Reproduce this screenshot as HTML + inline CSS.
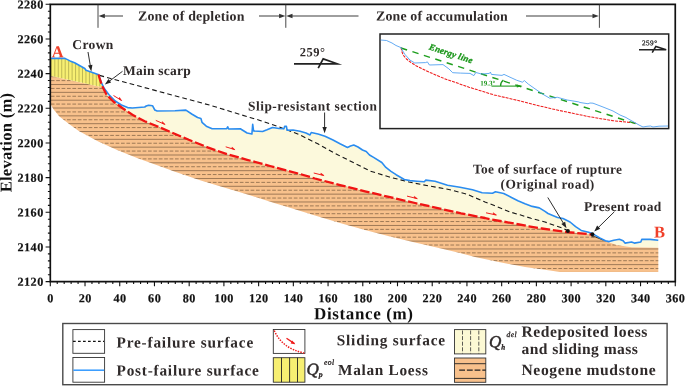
<!DOCTYPE html><html><head><meta charset="utf-8"><title>Landslide profile</title>
<style>html,body{margin:0;padding:0;background:#fff}body{width:685px;height:386px;overflow:hidden}svg{display:block;will-change:transform}text{font-family:"Liberation Serif",serif;font-weight:bold}</style></head><body>
<svg width="685" height="386" viewBox="0 0 685 386">
<defs>
<pattern id="pm" width="40" height="7.6" patternUnits="userSpaceOnUse" x="0" y="0.45"><rect width="40" height="7.6" fill="#f8c18c"/><line x1="0" y1="3.8" x2="40" y2="3.8" stroke="#4a3524" stroke-width="0.7" stroke-dasharray="3.2 1.8"/><line x1="0" y1="7.2" x2="40" y2="7.2" stroke="#4a3524" stroke-width="0.65"/></pattern>
<pattern id="pl" width="3.1" height="10" patternUnits="userSpaceOnUse" x="1.2"><rect width="3.1" height="10" fill="#f7ef72"/><line x1="1.5" y1="0" x2="1.5" y2="10" stroke="#55501c" stroke-width="0.45"/></pattern>
<clipPath id="cp"><rect x="50.30" y="4.30" width="624.96" height="277.36"/></clipPath>
</defs>
<rect width="685" height="386" fill="#fff"/>
<path d="M98.75,74.80 L101.20,82.40 L104.30,88.60 L109.00,94.80 L115.20,101.00 L121.40,105.00 L127.60,107.60 L132.30,108.00 L144.70,107.00 L146.20,106.00 L148.60,105.20 L152.50,105.70 L154.80,110.00 L157.10,111.00 L175.00,110.70 L185.90,110.10 L191.70,114.00 L197.60,117.50 L200.90,118.40 L202.00,122.30 L206.30,126.20 L212.10,128.70 L226.70,128.70 L227.70,126.80 L228.60,129.00 L240.30,128.70 L247.10,133.00 L251.90,134.00 L252.70,124.30 L253.60,131.00 L262.60,131.50 L267.00,129.80 L272.50,127.50 L279.00,128.50 L283.90,128.80 L284.70,126.30 L286.40,126.40 L287.10,130.20 L293.00,130.00 L300.00,131.25 L306.00,133.00 L310.00,135.00 L311.25,132.50 L318.00,134.00 L325.00,136.25 L333.00,140.00 L340.00,143.75 L347.50,147.50 L350.50,146.00 L353.75,145.00 L358.00,147.00 L362.50,150.00 L366.25,151.50 L369.50,155.00 L373.60,157.40 L381.80,162.50 L385.90,167.40 L391.00,171.30 L396.10,174.70 L404.30,179.50 L410.00,180.60 L417.00,181.20 L424.30,181.70 L425.80,180.10 L435.00,181.30 L447.50,185.30 L460.00,187.20 L472.50,189.70 L482.10,192.70 L492.50,193.30 L495.50,191.80 L503.70,193.50 L511.00,197.20 L517.90,200.70 L525.00,203.70 L532.20,206.40 L539.30,207.90 L545.00,211.40 L548.00,213.50 L557.50,217.50 L563.00,218.50 L570.00,222.00 L575.60,226.70 L581.20,230.40 L588.60,232.30 L593.30,234.10 L599.80,237.90 L605.40,240.70 L609.10,241.60 L613.80,240.30 L619.40,239.20 L623.10,240.70 L625.00,243.10 L631.50,242.00 L634.30,243.10 L640.80,242.00 L641.80,239.40 L650.10,239.40 L658.30,240.30 L658.30,247.80 L631.50,247.20 L616.60,245.00 L608.00,242.00 L600.00,238.30 L592.00,234.50 L567.70,232.10 L554.70,230.40 L541.80,228.50 L528.80,226.30 L515.90,223.90 L503.00,221.50 L490.00,219.20 L485.00,218.00 L461.00,213.30 L440.00,208.60 L415.00,203.00 L390.00,197.20 L365.00,191.30 L340.00,185.10 L315.00,178.50 L300.00,174.00 L270.00,166.00 L247.10,159.80 L227.70,154.40 L208.30,147.60 L188.80,139.80 L169.40,131.50 L157.10,126.30 L144.70,121.20 L133.80,115.60 L123.00,108.50 L113.60,101.70 L106.60,94.80 L102.00,85.50 L99.50,78.00 L98.50,74.50Z" fill="#fcf9dc"/>
<clipPath id="cm"><path d="M50.30,75.75 L102.60,87.20 L106.60,94.80 L113.60,101.70 L123.00,108.50 L133.80,115.60 L144.70,121.20 L157.10,126.30 L169.40,131.50 L188.80,139.80 L208.30,147.60 L227.70,154.40 L247.10,159.80 L270.00,166.00 L300.00,174.00 L315.00,178.50 L340.00,185.10 L365.00,191.30 L390.00,197.20 L415.00,203.00 L440.00,208.60 L461.00,213.30 L485.00,218.00 L490.00,219.20 L503.00,221.50 L515.90,223.90 L528.80,226.30 L541.80,228.50 L554.70,230.40 L567.70,232.10 L592.00,234.50 L600.00,238.30 L608.00,242.00 L616.60,245.00 L631.50,247.20 L658.30,247.80 L658.30,272.00 L560.00,272.00 L550.00,270.50 L525.00,267.00 L500.00,262.30 L475.00,257.00 L461.00,253.20 L440.00,248.30 L415.00,242.40 L390.00,236.40 L365.00,229.90 L340.00,222.90 L315.00,215.40 L290.00,207.80 L275.00,203.20 L250.00,195.30 L225.00,187.80 L200.00,180.30 L175.00,171.80 L160.00,166.20 L137.10,158.10 L117.70,150.30 L98.30,141.60 L78.80,130.90 L69.10,124.10 L59.40,116.40 L53.60,109.60 L50.30,103.70Z"/></clipPath><clipPath id="cl"><path d="M50.30,58.40 L65.00,58.40 L70.00,60.90 L74.60,62.80 L84.80,68.50 L86.00,70.20 L98.75,74.80 L99.50,78.00 L102.00,85.50 L102.60,87.20 L50.30,75.75Z"/></clipPath>
<path d="M50.30,75.75 L102.60,87.20 L106.60,94.80 L113.60,101.70 L123.00,108.50 L133.80,115.60 L144.70,121.20 L157.10,126.30 L169.40,131.50 L188.80,139.80 L208.30,147.60 L227.70,154.40 L247.10,159.80 L270.00,166.00 L300.00,174.00 L315.00,178.50 L340.00,185.10 L365.00,191.30 L390.00,197.20 L415.00,203.00 L440.00,208.60 L461.00,213.30 L485.00,218.00 L490.00,219.20 L503.00,221.50 L515.90,223.90 L528.80,226.30 L541.80,228.50 L554.70,230.40 L567.70,232.10 L592.00,234.50 L600.00,238.30 L608.00,242.00 L616.60,245.00 L631.50,247.20 L658.30,247.80 L658.30,272.00 L560.00,272.00 L550.00,270.50 L525.00,267.00 L500.00,262.30 L475.00,257.00 L461.00,253.20 L440.00,248.30 L415.00,242.40 L390.00,236.40 L365.00,229.90 L340.00,222.90 L315.00,215.40 L290.00,207.80 L275.00,203.20 L250.00,195.30 L225.00,187.80 L200.00,180.30 L175.00,171.80 L160.00,166.20 L137.10,158.10 L117.70,150.30 L98.30,141.60 L78.80,130.90 L69.10,124.10 L59.40,116.40 L53.60,109.60 L50.30,103.70Z" fill="#f8c18c"/>
<g clip-path="url(#cm)" fill="none" stroke="#3d2b1b"><path d="M50,76.70 H660 M50,84.53 H660 M50,92.36 H660 M50,100.19 H660 M50,108.02 H660 M50,115.85 H660 M50,123.68 H660 M50,131.51 H660 M50,139.34 H660 M50,147.17 H660 M50,155.00 H660 M50,162.83 H660 M50,170.66 H660 M50,178.49 H660 M50,186.32 H660 M50,194.15 H660 M50,201.98 H660 M50,209.81 H660 M50,217.64 H660 M50,225.47 H660 M50,233.30 H660 M50,241.13 H660 M50,248.96 H660 M50,256.79 H660 M50,264.62 H660 M50,272.45 H660" stroke-width="0.58" stroke-opacity="0.82"/><path d="M50.8,80.60 H660 M50.8,88.43 H660 M50.8,96.26 H660 M50.8,104.09 H660 M50.8,111.92 H660 M50.8,119.75 H660 M50.8,127.58 H660 M50.8,135.41 H660 M50.8,143.24 H660 M50.8,151.07 H660 M50.8,158.90 H660 M50.8,166.73 H660 M50.8,174.56 H660 M50.8,182.39 H660 M50.8,190.22 H660 M50.8,198.05 H660 M50.8,205.88 H660 M50.8,213.71 H660 M50.8,221.54 H660 M50.8,229.37 H660 M50.8,237.20 H660 M50.8,245.03 H660 M50.8,252.86 H660 M50.8,260.69 H660 M50.8,268.52 H660 M50.8,276.35 H660" stroke-width="0.62" stroke-dasharray="3.7 1.7" stroke-opacity="0.78"/></g>
<path d="M50.30,58.40 L65.00,58.40 L70.00,60.90 L74.60,62.80 L84.80,68.50 L86.00,70.20 L98.75,74.80 L99.50,78.00 L102.00,85.50 L102.60,87.20 L50.30,75.75Z" fill="#f7ef72"/>
<g clip-path="url(#cl)" fill="none" stroke="#4a4618" stroke-width="0.5" stroke-opacity="0.65"><path d="M51.35,55 V90 M54.81,55 V90 M58.27,55 V90 M61.73,55 V90 M65.19,55 V90 M68.65,55 V90 M72.11,55 V90 M75.57,55 V90 M79.03,55 V90 M82.49,55 V90 M85.95,55 V90 M89.41,55 V90 M92.87,55 V90 M96.33,55 V90 M99.79,55 V90"/></g>
<path d="M99.50,75.40 L211.00,105.50 L250.00,117.50 L260.00,120.40 L279.40,127.00 L298.80,134.40 L318.30,144.10 L337.70,154.80 L357.10,164.50 L370.00,171.00 L389.40,177.00 L408.80,182.00 L428.30,185.80 L447.70,189.20 L467.10,194.20 L485.00,202.00 L495.00,205.80 L510.00,212.00 L520.00,214.80 L531.00,218.30 L545.00,222.00 L563.75,228.60 L567.50,230.50" fill="none" stroke="#161616" stroke-width="1.1" stroke-dasharray="4.7 3.1"/>
<path d="M591.5,236.6 L595,236.8 L603.5,240.2" stroke="#222" stroke-width="0.9" fill="none"/>
<path d="M50.30,58.40 L65.00,58.40 L70.00,60.90 L74.60,62.80 L84.80,68.50 L86.00,70.20 L98.75,74.80 L101.20,82.40 L104.30,88.60 L109.00,94.80 L115.20,101.00 L121.40,105.00 L127.60,107.60 L132.30,108.00 L144.70,107.00 L146.20,106.00 L148.60,105.20 L152.50,105.70 L154.80,110.00 L157.10,111.00 L175.00,110.70 L185.90,110.10 L191.70,114.00 L197.60,117.50 L200.90,118.40 L202.00,122.30 L206.30,126.20 L212.10,128.70 L226.70,128.70 L227.70,126.80 L228.60,129.00 L240.30,128.70 L247.10,133.00 L251.90,134.00 L252.70,124.30 L253.60,131.00 L262.60,131.50 L267.00,129.80 L272.50,127.50 L279.00,128.50 L283.90,128.80 L284.70,126.30 L286.40,126.40 L287.10,130.20 L293.00,130.00 L300.00,131.25 L306.00,133.00 L310.00,135.00 L311.25,132.50 L318.00,134.00 L325.00,136.25 L333.00,140.00 L340.00,143.75 L347.50,147.50 L350.50,146.00 L353.75,145.00 L358.00,147.00 L362.50,150.00 L366.25,151.50 L369.50,155.00 L373.60,157.40 L381.80,162.50 L385.90,167.40 L391.00,171.30 L396.10,174.70 L404.30,179.50 L410.00,180.60 L417.00,181.20 L424.30,181.70 L425.80,180.10 L435.00,181.30 L447.50,185.30 L460.00,187.20 L472.50,189.70 L482.10,192.70 L492.50,193.30 L495.50,191.80 L503.70,193.50 L511.00,197.20 L517.90,200.70 L525.00,203.70 L532.20,206.40 L539.30,207.90 L545.00,211.40 L548.00,213.50 L557.50,217.50 L563.00,218.50 L570.00,222.00 L575.60,226.70 L581.20,230.40 L588.60,232.30 L593.30,234.10 L599.80,237.90 L605.40,240.70 L609.10,241.60 L613.80,240.30 L619.40,239.20 L623.10,240.70 L625.00,243.10 L631.50,242.00 L634.30,243.10 L640.80,242.00 L641.80,239.40 L650.10,239.40 L658.30,240.30" fill="none" stroke="#2a8cf0" stroke-width="1.6" stroke-linejoin="round"/>
<path d="M98.50,74.50 L99.50,78.00 L102.00,85.50 L106.60,94.80 L113.60,101.70 L123.00,108.50 L133.80,115.60 L144.70,121.20 L157.10,126.30 L169.40,131.50 L188.80,139.80 L208.30,147.60 L227.70,154.40 L247.10,159.80 L270.00,166.00 L300.00,174.00 L315.00,178.50 L340.00,185.10 L365.00,191.30 L390.00,197.20 L415.00,203.00 L440.00,208.60 L461.00,213.30 L485.00,218.00 L490.00,219.20 L503.00,221.50 L515.90,223.90 L528.80,226.30 L541.80,228.50 L554.70,230.40 L567.70,232.10 L592.00,234.50" fill="none" stroke="#f01414" stroke-width="2.3" stroke-dasharray="9.5 2.8" stroke-linejoin="round"/>
<path d="M113.50,95.50 L121.50,100.50" fill="none" stroke="#f01414" stroke-width="0.95"/><path d="M121.84,100.71 L119.52,97.26 L118.96,98.91 Z" fill="#f01414" stroke="#f01414" stroke-width="0.4"/>
<path d="M155.80,120.40 L164.80,124.40" fill="none" stroke="#f01414" stroke-width="0.95"/><path d="M165.17,124.56 L162.38,121.47 L162.06,123.18 Z" fill="#f01414" stroke="#f01414" stroke-width="0.4"/>
<path d="M225.70,146.80 L234.70,149.60" fill="none" stroke="#f01414" stroke-width="0.95"/><path d="M235.08,149.72 L231.96,146.97 L231.84,148.71 Z" fill="#f01414" stroke="#f01414" stroke-width="0.4"/>
<path d="M313.75,173.00 L323.75,175.50" fill="none" stroke="#f01414" stroke-width="0.95"/><path d="M324.14,175.60 L320.86,173.03 L320.84,174.77 Z" fill="#f01414" stroke="#f01414" stroke-width="0.4"/>
<path d="M407.00,196.10 L417.10,198.60" fill="none" stroke="#f01414" stroke-width="0.95"/><path d="M417.49,198.70 L414.21,196.13 L414.19,197.88 Z" fill="#f01414" stroke="#f01414" stroke-width="0.4"/>
<path d="M486.00,212.80 L496.20,215.00" fill="none" stroke="#f01414" stroke-width="0.95"/><path d="M496.59,215.08 L493.23,212.62 L493.27,214.37 Z" fill="#f01414" stroke="#f01414" stroke-width="0.4"/>
<circle cx="567.9" cy="230.9" r="2.0" fill="#111"/><circle cx="592.4" cy="234.2" r="2.0" fill="#111"/>
<path d="M50.30,4.30 L675.26,4.30 L675.26,281.66 L50.30,281.66 Z" fill="none" stroke="#111" stroke-width="1.7"/>
<path d="M50.30,281.66 h-4.70 M50.30,274.73 h-2.40 M50.30,267.79 h-2.40 M50.30,260.86 h-2.40 M50.30,253.92 h-2.40 M50.30,246.99 h-4.70 M50.30,240.06 h-2.40 M50.30,233.12 h-2.40 M50.30,226.19 h-2.40 M50.30,219.25 h-2.40 M50.30,212.32 h-4.70 M50.30,205.39 h-2.40 M50.30,198.45 h-2.40 M50.30,191.52 h-2.40 M50.30,184.58 h-2.40 M50.30,177.65 h-4.70 M50.30,170.72 h-2.40 M50.30,163.78 h-2.40 M50.30,156.85 h-2.40 M50.30,149.91 h-2.40 M50.30,142.98 h-4.70 M50.30,136.05 h-2.40 M50.30,129.11 h-2.40 M50.30,122.18 h-2.40 M50.30,115.24 h-2.40 M50.30,108.31 h-4.70 M50.30,101.38 h-2.40 M50.30,94.44 h-2.40 M50.30,87.51 h-2.40 M50.30,80.57 h-2.40 M50.30,73.64 h-4.70 M50.30,66.71 h-2.40 M50.30,59.77 h-2.40 M50.30,52.84 h-2.40 M50.30,45.90 h-2.40 M50.30,38.97 h-4.70 M50.30,32.04 h-2.40 M50.30,25.10 h-2.40 M50.30,18.17 h-2.40 M50.30,11.23 h-2.40 M50.30,4.30 h-4.70 M50.30,281.66 v4.70 M57.24,281.66 v2.40 M64.19,281.66 v2.40 M71.13,281.66 v2.40 M78.08,281.66 v2.40 M85.02,281.66 v4.70 M91.96,281.66 v2.40 M98.91,281.66 v2.40 M105.85,281.66 v2.40 M112.80,281.66 v2.40 M119.74,281.66 v4.70 M126.68,281.66 v2.40 M133.63,281.66 v2.40 M140.57,281.66 v2.40 M147.52,281.66 v2.40 M154.46,281.66 v4.70 M161.40,281.66 v2.40 M168.35,281.66 v2.40 M175.29,281.66 v2.40 M182.24,281.66 v2.40 M189.18,281.66 v4.70 M196.12,281.66 v2.40 M203.07,281.66 v2.40 M210.01,281.66 v2.40 M216.96,281.66 v2.40 M223.90,281.66 v4.70 M230.84,281.66 v2.40 M237.79,281.66 v2.40 M244.73,281.66 v2.40 M251.68,281.66 v2.40 M258.62,281.66 v4.70 M265.56,281.66 v2.40 M272.51,281.66 v2.40 M279.45,281.66 v2.40 M286.40,281.66 v2.40 M293.34,281.66 v4.70 M300.28,281.66 v2.40 M307.23,281.66 v2.40 M314.17,281.66 v2.40 M321.12,281.66 v2.40 M328.06,281.66 v4.70 M335.00,281.66 v2.40 M341.95,281.66 v2.40 M348.89,281.66 v2.40 M355.84,281.66 v2.40 M362.78,281.66 v4.70 M369.72,281.66 v2.40 M376.67,281.66 v2.40 M383.61,281.66 v2.40 M390.56,281.66 v2.40 M397.50,281.66 v4.70 M404.44,281.66 v2.40 M411.39,281.66 v2.40 M418.33,281.66 v2.40 M425.28,281.66 v2.40 M432.22,281.66 v4.70 M439.16,281.66 v2.40 M446.11,281.66 v2.40 M453.05,281.66 v2.40 M460.00,281.66 v2.40 M466.94,281.66 v4.70 M473.88,281.66 v2.40 M480.83,281.66 v2.40 M487.77,281.66 v2.40 M494.72,281.66 v2.40 M501.66,281.66 v4.70 M508.60,281.66 v2.40 M515.55,281.66 v2.40 M522.49,281.66 v2.40 M529.44,281.66 v2.40 M536.38,281.66 v4.70 M543.32,281.66 v2.40 M550.27,281.66 v2.40 M557.21,281.66 v2.40 M564.16,281.66 v2.40 M571.10,281.66 v4.70 M578.04,281.66 v2.40 M584.99,281.66 v2.40 M591.93,281.66 v2.40 M598.88,281.66 v2.40 M605.82,281.66 v4.70 M612.76,281.66 v2.40 M619.71,281.66 v2.40 M626.65,281.66 v2.40 M633.60,281.66 v2.40 M640.54,281.66 v4.70 M647.48,281.66 v2.40 M654.43,281.66 v2.40 M661.37,281.66 v2.40 M668.32,281.66 v2.40 M675.26,281.66 v4.70" stroke="#111" stroke-width="1.1" fill="none"/>
<text x="43.70" y="285.86" font-size="12.20" text-anchor="end" fill="#111" letter-spacing="0.45" stroke="#111" stroke-width="0.2" transform="rotate(0.03 43.70 285.86)">2120</text>
<text x="43.70" y="251.19" font-size="12.20" text-anchor="end" fill="#111" letter-spacing="0.45" stroke="#111" stroke-width="0.2" transform="rotate(0.03 43.70 251.19)">2140</text>
<text x="43.70" y="216.52" font-size="12.20" text-anchor="end" fill="#111" letter-spacing="0.45" stroke="#111" stroke-width="0.2" transform="rotate(0.03 43.70 216.52)">2160</text>
<text x="43.70" y="181.85" font-size="12.20" text-anchor="end" fill="#111" letter-spacing="0.45" stroke="#111" stroke-width="0.2" transform="rotate(0.03 43.70 181.85)">2180</text>
<text x="43.70" y="147.18" font-size="12.20" text-anchor="end" fill="#111" letter-spacing="0.45" stroke="#111" stroke-width="0.2" transform="rotate(0.03 43.70 147.18)">2200</text>
<text x="43.70" y="112.51" font-size="12.20" text-anchor="end" fill="#111" letter-spacing="0.45" stroke="#111" stroke-width="0.2" transform="rotate(0.03 43.70 112.51)">2220</text>
<text x="43.70" y="77.84" font-size="12.20" text-anchor="end" fill="#111" letter-spacing="0.45" stroke="#111" stroke-width="0.2" transform="rotate(0.03 43.70 77.84)">2240</text>
<text x="43.70" y="43.17" font-size="12.20" text-anchor="end" fill="#111" letter-spacing="0.45" stroke="#111" stroke-width="0.2" transform="rotate(0.03 43.70 43.17)">2260</text>
<text x="43.70" y="8.50" font-size="12.20" text-anchor="end" fill="#111" letter-spacing="0.45" stroke="#111" stroke-width="0.2" transform="rotate(0.03 43.70 8.50)">2280</text>
<text x="50.50" y="302.20" font-size="12.20" text-anchor="middle" fill="#111" letter-spacing="0.45" stroke="#111" stroke-width="0.2" transform="rotate(0.03 50.50 302.20)">0</text>
<text x="85.22" y="302.20" font-size="12.20" text-anchor="middle" fill="#111" letter-spacing="0.45" stroke="#111" stroke-width="0.2" transform="rotate(0.03 85.22 302.20)">20</text>
<text x="119.94" y="302.20" font-size="12.20" text-anchor="middle" fill="#111" letter-spacing="0.45" stroke="#111" stroke-width="0.2" transform="rotate(0.03 119.94 302.20)">40</text>
<text x="154.66" y="302.20" font-size="12.20" text-anchor="middle" fill="#111" letter-spacing="0.45" stroke="#111" stroke-width="0.2" transform="rotate(0.03 154.66 302.20)">60</text>
<text x="189.38" y="302.20" font-size="12.20" text-anchor="middle" fill="#111" letter-spacing="0.45" stroke="#111" stroke-width="0.2" transform="rotate(0.03 189.38 302.20)">80</text>
<text x="224.10" y="302.20" font-size="12.20" text-anchor="middle" fill="#111" letter-spacing="0.45" stroke="#111" stroke-width="0.2" transform="rotate(0.03 224.10 302.20)">100</text>
<text x="258.82" y="302.20" font-size="12.20" text-anchor="middle" fill="#111" letter-spacing="0.45" stroke="#111" stroke-width="0.2" transform="rotate(0.03 258.82 302.20)">120</text>
<text x="293.54" y="302.20" font-size="12.20" text-anchor="middle" fill="#111" letter-spacing="0.45" stroke="#111" stroke-width="0.2" transform="rotate(0.03 293.54 302.20)">140</text>
<text x="328.26" y="302.20" font-size="12.20" text-anchor="middle" fill="#111" letter-spacing="0.45" stroke="#111" stroke-width="0.2" transform="rotate(0.03 328.26 302.20)">160</text>
<text x="362.98" y="302.20" font-size="12.20" text-anchor="middle" fill="#111" letter-spacing="0.45" stroke="#111" stroke-width="0.2" transform="rotate(0.03 362.98 302.20)">180</text>
<text x="397.70" y="302.20" font-size="12.20" text-anchor="middle" fill="#111" letter-spacing="0.45" stroke="#111" stroke-width="0.2" transform="rotate(0.03 397.70 302.20)">200</text>
<text x="432.42" y="302.20" font-size="12.20" text-anchor="middle" fill="#111" letter-spacing="0.45" stroke="#111" stroke-width="0.2" transform="rotate(0.03 432.42 302.20)">220</text>
<text x="467.14" y="302.20" font-size="12.20" text-anchor="middle" fill="#111" letter-spacing="0.45" stroke="#111" stroke-width="0.2" transform="rotate(0.03 467.14 302.20)">240</text>
<text x="501.86" y="302.20" font-size="12.20" text-anchor="middle" fill="#111" letter-spacing="0.45" stroke="#111" stroke-width="0.2" transform="rotate(0.03 501.86 302.20)">260</text>
<text x="536.58" y="302.20" font-size="12.20" text-anchor="middle" fill="#111" letter-spacing="0.45" stroke="#111" stroke-width="0.2" transform="rotate(0.03 536.58 302.20)">280</text>
<text x="571.30" y="302.20" font-size="12.20" text-anchor="middle" fill="#111" letter-spacing="0.45" stroke="#111" stroke-width="0.2" transform="rotate(0.03 571.30 302.20)">300</text>
<text x="606.02" y="302.20" font-size="12.20" text-anchor="middle" fill="#111" letter-spacing="0.45" stroke="#111" stroke-width="0.2" transform="rotate(0.03 606.02 302.20)">320</text>
<text x="640.74" y="302.20" font-size="12.20" text-anchor="middle" fill="#111" letter-spacing="0.45" stroke="#111" stroke-width="0.2" transform="rotate(0.03 640.74 302.20)">340</text>
<text x="675.46" y="302.20" font-size="12.20" text-anchor="middle" fill="#111" letter-spacing="0.45" stroke="#111" stroke-width="0.2" transform="rotate(0.03 675.46 302.20)">360</text>
<text x="0.00" y="0.00" font-size="16.50" text-anchor="middle" fill="#111" letter-spacing="0.30" transform="translate(11.5,142.5) rotate(-89.97)">Elevation (m)</text>
<text x="314.00" y="319.30" font-size="17.00" text-anchor="start" fill="#111" textLength="98.90" lengthAdjust="spacing"  transform="rotate(0.03 314.00 319.30)">Distance (m)</text>
<path d="M98,4.5 V27.8 M285.8,4.5 V27.8 M599.4,4.5 V27.8" stroke="#333" stroke-width="0.9" fill="none"/>
<path d="M123.00,16.00 L103.80,16.00" stroke="#333" stroke-width="0.95" fill="none"/><path d="M98.50,16.00 L104.80,13.80 L104.80,18.20 Z" fill="#333"/>
<path d="M259.00,16.00 L280.10,16.00" stroke="#333" stroke-width="0.95" fill="none"/><path d="M285.40,16.00 L279.10,18.20 L279.10,13.80 Z" fill="#333"/>
<path d="M358.50,16.00 L291.50,16.00" stroke="#333" stroke-width="0.95" fill="none"/><path d="M286.20,16.00 L292.50,13.80 L292.50,18.20 Z" fill="#333"/>
<path d="M526.00,16.00 L593.50,16.00" stroke="#333" stroke-width="0.95" fill="none"/><path d="M598.80,16.00 L592.50,18.20 L592.50,13.80 Z" fill="#333"/>
<text x="138.00" y="20.60" font-size="13.90" text-anchor="start" fill="#2f2a2a" textLength="106.50" lengthAdjust="spacing"  transform="rotate(0.03 138.00 20.60)">Zone of depletion</text>
<text x="376.00" y="20.60" font-size="13.90" text-anchor="start" fill="#2f2a2a" textLength="131.80" lengthAdjust="spacing"  transform="rotate(0.03 376.00 20.60)">Zone of accumulation</text>
<text x="299.70" y="56.20" font-size="12.50" text-anchor="start" fill="#2f2a2a" letter-spacing="0.50"  transform="rotate(0.03 299.70 56.20)">259°</text>
<path d="M294,63.8 H337.2 L323.2,58.9 L318.2,68.2" stroke="#222" stroke-width="1.7" fill="none" stroke-linejoin="miter" stroke-miterlimit="10"/>
<text x="51.80" y="57.30" font-size="16.50" text-anchor="start" fill="#f0402a" letter-spacing="0.00"  transform="rotate(0.03 51.80 57.30)">A</text>
<text x="654.00" y="237.60" font-size="16.50" text-anchor="start" fill="#f0402a" letter-spacing="0.00"  transform="rotate(0.03 654.00 237.60)">B</text>
<text x="72.30" y="49.10" font-size="13.50" text-anchor="start" fill="#2f2a2a" textLength="41.00" lengthAdjust="spacing"  transform="rotate(0.03 72.30 49.10)">Crown</text>
<path d="M88.00,52.00 L90.41,66.18" stroke="#222" stroke-width="0.95" fill="none"/><path d="M91.30,71.40 L88.07,65.56 L92.41,64.82 Z" fill="#222"/>
<text x="123.00" y="74.90" font-size="13.50" text-anchor="start" fill="#2f2a2a" textLength="67.80" lengthAdjust="spacing"  transform="rotate(0.03 123.00 74.90)">Main scarp</text>
<path d="M122.50,71.30 L109.04,81.42" stroke="#222" stroke-width="0.95" fill="none"/><path d="M104.80,84.60 L108.51,79.06 L111.16,82.57 Z" fill="#222"/>
<text x="248.00" y="110.50" font-size="13.40" text-anchor="start" fill="#2f2a2a" textLength="129.00" lengthAdjust="spacing"  transform="rotate(0.03 248.00 110.50)">Slip-resistant section</text>
<path d="M324.60,112.50 L324.60,127.90" stroke="#222" stroke-width="0.95" fill="none"/><path d="M324.60,133.20 L322.40,126.90 L326.80,126.90 Z" fill="#222"/>
<text x="473.00" y="173.60" font-size="13.40" text-anchor="start" fill="#2f2a2a" textLength="149.00" lengthAdjust="spacing"  transform="rotate(0.03 473.00 173.60)">Toe of surface of rupture</text>
<text x="500.50" y="188.60" font-size="13.40" text-anchor="start" fill="#2f2a2a" textLength="93.80" lengthAdjust="spacing"  transform="rotate(0.03 500.50 188.60)">(Original road)</text>
<path d="M547.80,197.50 L563.75,223.77" stroke="#222" stroke-width="0.95" fill="none"/><path d="M566.50,228.30 L561.35,224.06 L565.11,221.77 Z" fill="#222"/>
<text x="584.00" y="211.00" font-size="13.50" text-anchor="start" fill="#2f2a2a" textLength="77.30" lengthAdjust="spacing"  transform="rotate(0.03 584.00 211.00)">Present road</text>
<path d="M614.30,211.80 L597.98,227.88" stroke="#222" stroke-width="0.95" fill="none"/><path d="M594.20,231.60 L597.14,225.61 L600.23,228.75 Z" fill="#222"/>
<rect x="380" y="34" width="288.7" height="94.6" fill="#fff" stroke="#222" stroke-width="1.5"/>
<path d="M401.00,47.50 L402.00,52.00 L403.50,55.50 L406.50,59.00 L411.00,62.50 L416.50,66.00 L430.00,72.50 L444.00,78.50 L469.00,87.20 L494.00,94.90 L515.00,99.80 L550.50,108.60 L588.00,116.50 L613.00,120.70 L635.50,123.00" fill="none" stroke="#ee1c1c" stroke-width="1.05" stroke-dasharray="3 1"/>
<path d="M401,48 L636,123.8" fill="none" stroke="#1e9e1e" stroke-width="1.45" stroke-dasharray="6.4 5.6"/>
<path d="M380.70,40.00 L386.50,40.50 L392.00,43.00 L396.00,45.50 L401.20,47.70 L402.80,51.00 L405.00,54.50 L410.00,60.10 L414.80,63.00 L420.00,62.80 L425.50,62.60 L427.40,61.90 L429.40,65.00 L436.00,64.80 L443.00,64.60 L448.80,68.80 L452.70,72.70 L460.40,73.10 L470.00,73.40 L473.90,75.60 L475.80,72.50 L481.70,74.00 L489.40,73.40 L490.40,72.10 L491.40,74.40 L502.00,75.40 L504.00,74.40 L510.00,77.20 L516.60,80.20 L522.40,82.20 L524.40,80.60 L528.30,84.10 L538.00,90.90 L543.80,94.80 L549.60,98.10 L557.40,97.30 L567.10,100.00 L578.70,101.90 L580.00,102.50 L588.00,103.75 L590.00,103.00 L593.00,103.20 L603.00,107.00 L613.00,111.00 L620.00,115.00 L626.00,117.50 L628.00,118.75 L635.50,123.00 L639.00,125.00 L643.00,127.00 L647.00,126.30 L650.50,126.00 L653.00,127.00 L659.00,126.20 L668.00,126.00" fill="none" stroke="#3c96f0" stroke-width="0.8" stroke-linejoin="round"/>
<path d="M491.5,86.1 H518" stroke="#1e9a1e" stroke-width="1.1" fill="none"/><path d="M522.6,86 L516.8,84.4 L516.8,87.6 Z" fill="#1e9a1e"/>
<path d="M503.4,79.9 Q500.2,82.6 500.6,86" stroke="#1e9a1e" stroke-width="1.3" fill="none"/>
<text x="480.30" y="85.50" font-size="7.00" text-anchor="start" fill="#1a961a" letter-spacing="0.00"  transform="rotate(0.03 480.30 85.50)">19.3°</text>
<text x="0.00" y="0.00" font-size="9.00" text-anchor="start" fill="#1a961a" letter-spacing="0.20" font-style="italic" stroke="#1a961a" stroke-width="0.3" transform="translate(428.5,49.2) rotate(18.3)">Energy line</text>
<text x="642.00" y="45.20" font-size="7.20" text-anchor="start" fill="#222" letter-spacing="0.45" style="font-weight:normal" stroke="#222" stroke-width="0.25" transform="rotate(0.03 642.00 45.20)">259°</text>
<path d="M639,49.7 H666.2 L655.8,46.5 L652.2,52.6" stroke="#222" stroke-width="1.5" fill="none"/>
<rect x="62.8" y="323.5" width="604.3" height="61.2" fill="#fff" stroke="#4a4a4a" stroke-width="1.4"/>
<rect x="72.90" y="329.60" width="31.70" height="23.70" fill="#fff" stroke="#333" stroke-width="0.9"/>
<path d="M73,341.4 H104" stroke="#111" stroke-width="1.25" stroke-dasharray="2.7 2.3"/>
<rect x="72.90" y="357.50" width="31.70" height="24.70" fill="#fff" stroke="#333" stroke-width="0.9"/>
<path d="M73.3,370.2 H104.2" stroke="#3399ff" stroke-width="1.5"/>
<text x="116.50" y="347.50" font-size="15.30" text-anchor="start" fill="#2f2a2a" textLength="136.70" lengthAdjust="spacing"  transform="rotate(0.03 116.50 347.50)">Pre-failure surface</text>
<text x="116.50" y="375.50" font-size="15.30" text-anchor="start" fill="#2f2a2a" textLength="142.40" lengthAdjust="spacing"  transform="rotate(0.03 116.50 375.50)">Post-failure surface</text>
<rect x="273.30" y="329.50" width="31.60" height="23.90" fill="#fff" stroke="#333" stroke-width="0.9"/>
<path d="M274.3,330.5 Q282,348.5 304.3,353" stroke="#ee1c1c" stroke-width="1.5" fill="none" stroke-dasharray="1.5 1.2"/>
<path d="M286.5,338.2 L294.5,343.6" stroke="#ee1c1c" stroke-width="1.3" fill="none"/><path d="M295.3,344.2 L290.6,343.5 L292.2,340.6 Z" fill="#ee1c1c"/>
<rect x="273.30" y="357.70" width="31.60" height="24.50" fill="#f7ef72" stroke="#333" stroke-width="0.9"/>
<path d="M281.5,357.7 V382.2 M289.6,357.7 V382.2 M297.5,357.7 V382.2" stroke="#222" stroke-width="0.9"/>
<text x="336.80" y="345.20" font-size="15.30" text-anchor="start" fill="#2f2a2a" textLength="108.20" lengthAdjust="spacing"  transform="rotate(0.03 336.80 345.20)">Sliding surface</text>
<text x="338.00" y="375.10" font-size="15.30" text-anchor="start" fill="#2f2a2a" textLength="90.00" lengthAdjust="spacing"  transform="rotate(0.03 338.00 375.10)">Malan Loess</text>
<text x="306.5" y="374.8" transform="rotate(0.03 306.5 374.8)" font-size="17" font-style="italic" style="font-weight:normal" stroke="#2f2a2a" stroke-width="0.5" fill="#2f2a2a">Q<tspan font-size="7.5" dy="2.2">p</tspan><tspan font-size="7.5" dy="-12.3" dx="1.5" letter-spacing="0.5" stroke-width="0.35">eol</tspan></text>
<rect x="454.50" y="329.60" width="31.30" height="24.30" fill="#fcf9d4" stroke="#333" stroke-width="0.9"/>
<path d="M462.5,330.5 V353.5 M470.6,330.5 V353.5 M478.8,330.5 V353.5" stroke="#333" stroke-width="0.8" stroke-dasharray="4 1.6"/>
<rect x="454.50" y="358.00" width="31.30" height="24.30" fill="#f8c18c" stroke="#333" stroke-width="0.9"/>
<path d="M454.5,363.7 H485.8 M454.5,378.4 H485.8" stroke="#222" stroke-width="0.9"/><path d="M459.2,370.1 H485.8" stroke="#222" stroke-width="1.1" stroke-dasharray="5.8 1.9"/>
<text x="489" y="347.2" transform="rotate(0.03 489 347.2)" font-size="17" font-style="italic" style="font-weight:normal" stroke="#2f2a2a" stroke-width="0.5" fill="#2f2a2a">Q<tspan font-size="7.5" dy="2.2">h</tspan><tspan font-size="7.5" dy="-12.3" dx="1.5" letter-spacing="0.5" stroke-width="0.35">del</tspan></text>
<text x="521.50" y="336.70" font-size="15.60" text-anchor="start" fill="#2f2a2a" textLength="125.90" lengthAdjust="spacing"  transform="rotate(0.03 521.50 336.70)">Redeposited loess</text>
<text x="521.50" y="354.00" font-size="15.60" text-anchor="start" fill="#2f2a2a" textLength="116.30" lengthAdjust="spacing"  transform="rotate(0.03 521.50 354.00)">and sliding mass</text>
<text x="521.50" y="374.90" font-size="15.60" text-anchor="start" fill="#2f2a2a" textLength="134.20" lengthAdjust="spacing"  transform="rotate(0.03 521.50 374.90)">Neogene mudstone</text>
</svg></body></html>
